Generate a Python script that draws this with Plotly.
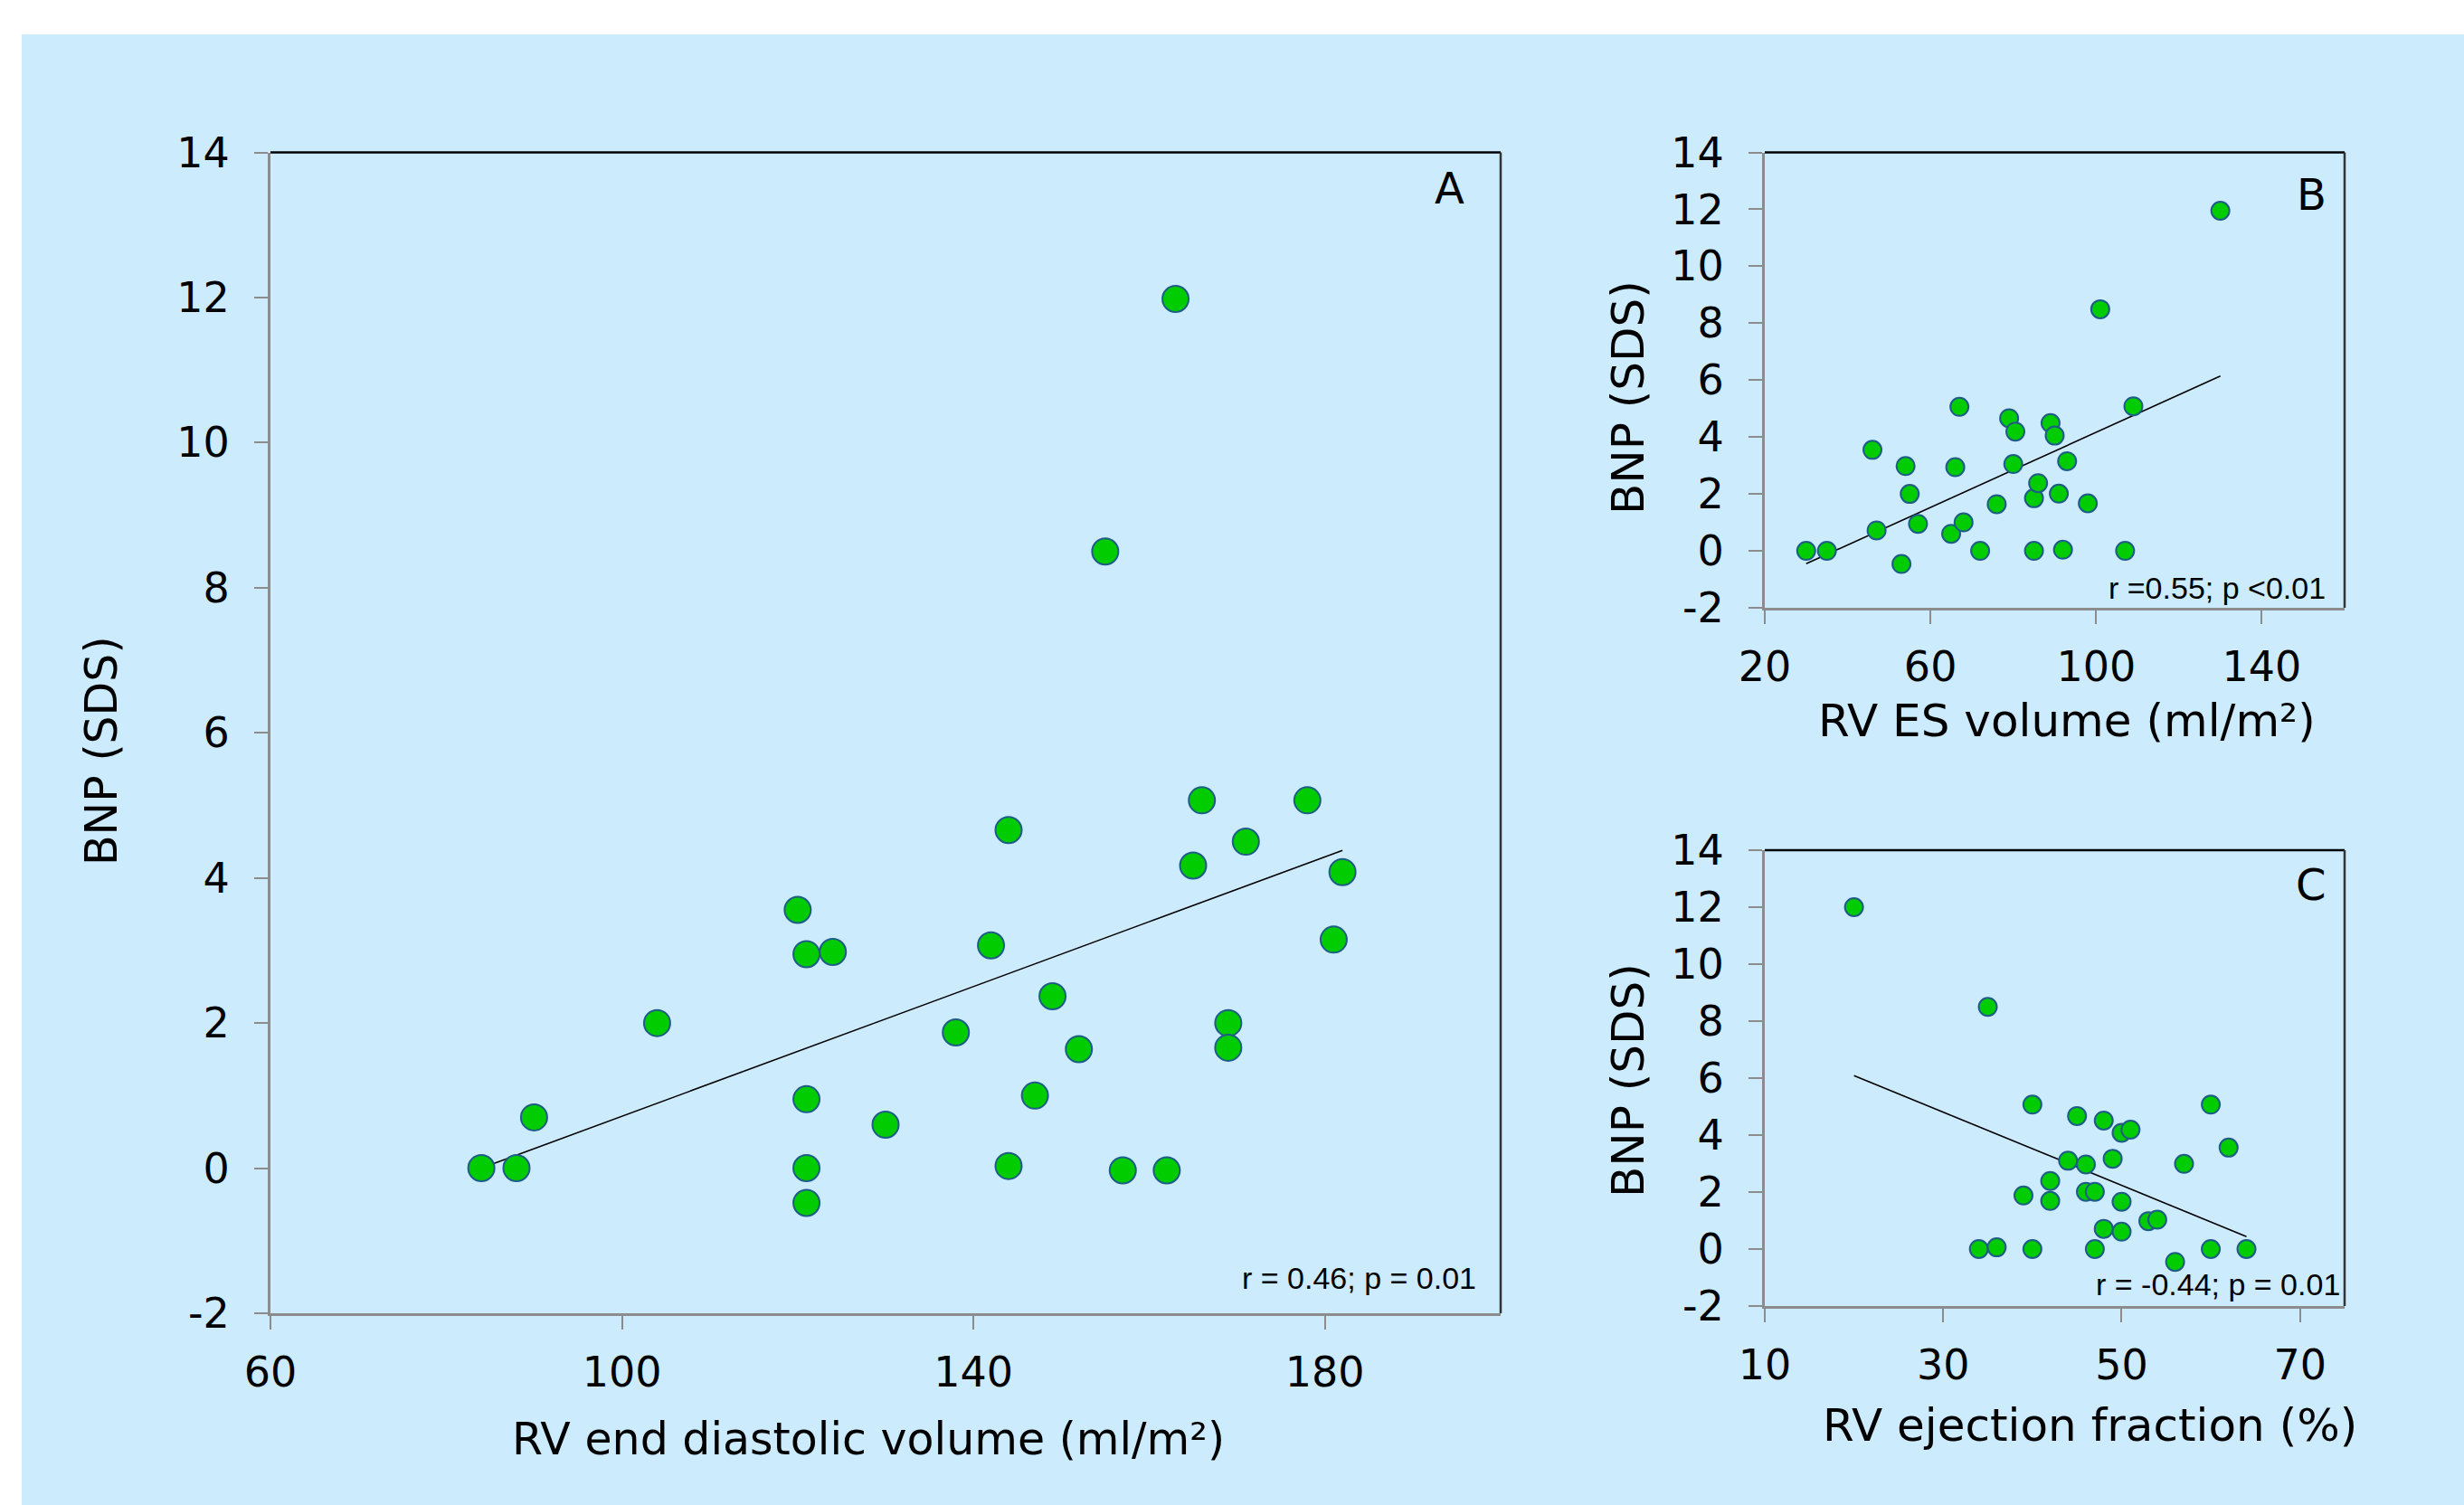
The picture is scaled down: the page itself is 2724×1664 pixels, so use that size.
import plotly.graph_objects as go

# ---------------- data ----------------
# Panel A: RV end diastolic volume (ml/m²) vs BNP (SDS)
edv_x = [84, 88, 90, 104, 120, 121, 124, 121, 121, 121, 130, 138, 142, 144, 144,
         147, 149, 152, 155, 157, 162, 163, 165, 166, 169, 169, 171, 178, 181, 182]
edv_y = [0.0, 0.0, 0.7, 2.0, 3.56, 2.95, 2.98, 0.95, 0.0, -0.48, 0.6, 1.87, 3.07, 4.66, 0.03,
         1.0, 2.37, 1.64, 8.5, -0.03, -0.03, 11.98, 4.17, 5.07, 2.0, 1.66, 4.5, 5.07, 3.15, 4.08]
fit_a_x = [84, 182]
fit_a_y = [0.0, 4.38]

# Panel B: RV ES volume (ml/m²) vs BNP (SDS)
esv_x = [30, 35, 46, 47, 53, 54, 55, 57, 65, 66, 67, 68, 72, 76, 79,
         80, 80.5, 85, 85, 86, 89, 90, 91, 92, 93, 98, 101, 107, 109, 130]
esv_y = [0.0, 0.0, 3.55, 0.72, -0.46, 2.98, 2.0, 0.95, 0.6, 2.94, 5.06, 1.0, 0.0, 1.64, 4.66,
         3.05, 4.19, 0.0, 1.85, 2.38, 4.49, 4.05, 2.01, 0.04, 3.15, 1.67, 8.49, 0.0, 5.08, 11.95]
fit_b_x = [30, 130]
fit_b_y = [-0.45, 6.14]

# Panel C: RV ejection fraction (%) vs BNP (SDS)
ef_x = [20, 35, 34, 36, 40, 40, 39, 42, 42, 44, 45, 46, 46, 47, 47,
        48, 48, 49, 50, 51, 50, 50, 53, 54, 56, 57, 60, 60, 62, 64]
ef_y = [12.0, 8.5, 0.0, 0.06, 5.07, 0.0, 1.88, 2.39, 1.69, 3.1, 4.67, 2.97, 2.01, 2.01, 0.0,
        4.51, 0.71, 3.17, 4.08, 4.19, 1.66, 0.61, 0.98, 1.03, -0.45, 2.99, 5.07, 0.0, 3.56, 0.0]
fit_c_x = [20, 64]
fit_c_y = [6.09, 0.44]

y_ticks = [-2, 0, 2, 4, 6, 8, 10, 12, 14]
a_xticks = [60, 100, 140, 180]
b_xticks = [20, 60, 100, 140]
c_xticks = [10, 30, 50, 70]

# ---------------- layout helpers ----------------
W, H = 2724, 1664
def px(x):
    return x / W
def py(y):
    return 1 - y / H

BG = "#CCEBFD"
GREEN = "#00CC00"
EDGE = "#1F5C86"
AXIS_GREY = "#8C8C8C"
FONT = "DejaVu Sans"
TICK_SIZE = 46

fig = go.Figure()

panels = [
    dict(x=edv_x, y=edv_y, fx=fit_a_x, fy=fit_a_y, size=29, xa="x", ya="y"),
    dict(x=esv_x, y=esv_y, fx=fit_b_x, fy=fit_b_y, size=20, xa="x2", ya="y2"),
    dict(x=ef_x, y=ef_y, fx=fit_c_x, fy=fit_c_y, size=20, xa="x3", ya="y3"),
]
for p in panels:
    fig.add_trace(go.Scatter(x=p["fx"], y=p["fy"], mode="lines",
                             line=dict(color="black", width=1.6),
                             xaxis=p["xa"], yaxis=p["ya"], showlegend=False,
                             hoverinfo="skip"))
    fig.add_trace(go.Scatter(x=p["x"], y=p["y"], mode="markers",
                             marker=dict(size=p["size"], color=GREEN,
                                         line=dict(color=EDGE, width=2)),
                             xaxis=p["xa"], yaxis=p["ya"], showlegend=False))

def xax(domain, rng, ticks, anchor):
    return dict(domain=domain, range=rng, tickvals=ticks, ticktext=[str(t) for t in ticks],
                showgrid=False, zeroline=False, showline=True, linecolor=AXIS_GREY,
                linewidth=3, ticks="outside", ticklen=15, tickwidth=2, tickcolor=AXIS_GREY,
                tickfont=dict(family=FONT, size=TICK_SIZE, color="black"), anchor=anchor,
                automargin=False, ticklabelstandoff=8)

def yax(domain, anchor):
    return dict(domain=domain, range=[-2, 14], tickvals=y_ticks,
                ticktext=[str(t) for t in y_ticks],
                showgrid=False, zeroline=False, showline=True, linecolor=AXIS_GREY,
                linewidth=3, ticks="outside", ticklen=15, tickwidth=2, tickcolor=AXIS_GREY,
                tickfont=dict(family=FONT, size=TICK_SIZE, color="black"), anchor=anchor,
                automargin=False, ticklabelstandoff=18)

dA_x = [px(299), px(1659)]
dA_y = [py(1452), py(168.5)]
dB_x = [px(1951), px(2592)]
dB_y = [py(672), py(168.5)]
dC_x = [px(1951), px(2592)]
dC_y = [py(1444), py(940)]

fig.update_layout(
    width=W, height=H,
    margin=dict(l=0, r=0, t=0, b=0),
    paper_bgcolor="white", plot_bgcolor="white",
    template="none",
    xaxis=xax(dA_x, [60, 200], a_xticks, "y"),
    yaxis=yax(dA_y, "x"),
    xaxis2=xax(dB_x, [20, 160], b_xticks, "y2"),
    yaxis2=yax(dB_y, "x2"),
    xaxis3=xax(dC_x, [10, 75], c_xticks, "y3"),
    yaxis3=yax(dC_y, "x3"),
)

shapes = [dict(type="rect", xref="paper", yref="paper", x0=px(24), x1=1, y0=0, y1=py(38),
               fillcolor=BG, line=dict(width=0), layer="below")]
for xa, ya in [("x", "y"), ("x2", "y2"), ("x3", "y3")]:
    shapes.append(dict(type="line", xref=f"{xa} domain", yref=f"{ya} domain",
                       x0=0, x1=1, y0=1, y1=1, line=dict(color="black", width=2.5)))
    shapes.append(dict(type="line", xref=f"{xa} domain", yref=f"{ya} domain",
                       x0=1, x1=1, y0=0, y1=1, line=dict(color="#333333", width=2.5)))
fig.update_layout(shapes=shapes)

ann = []
def text(x, y, s, size, family=FONT, xanchor="center", angle=0):
    ann.append(dict(x=px(x), y=py(y), xref="paper", yref="paper", text=s, showarrow=False,
                    xanchor=xanchor, yanchor="middle", textangle=angle,
                    font=dict(family=family, size=size, color="black")))

# axis titles
text(960, 1591, "RV end diastolic volume (ml/m²)", 49)
text(113, 830, "BNP (SDS)", 49, angle=-90)
text(2285, 797, "RV ES volume (ml/m²)", 50)
text(1800, 440, "BNP (SDS)", 50, angle=-90)
text(2310, 1576, "RV ejection fraction (%)", 50)
text(1800, 1195, "BNP (SDS)", 50, angle=-90)
# panel letters
text(1602, 208, "A", 48)
text(2555, 215, "B", 48)
text(2555, 978, "C", 48)
# stats
text(1634, 1413, "r = 0.46; p = 0.01", 34, family="Liberation Sans", xanchor="right")
text(2573, 650, "r =0.55; p <0.01", 34, family="Liberation Sans", xanchor="right")
text(2589, 1420, "r = -0.44; p = 0.01", 34, family="Liberation Sans", xanchor="right")
fig.update_layout(annotations=ann)

fig.write_html("out.html", config={"displayModeBar": False},
               post_script="document.body.style.margin='0px';")
